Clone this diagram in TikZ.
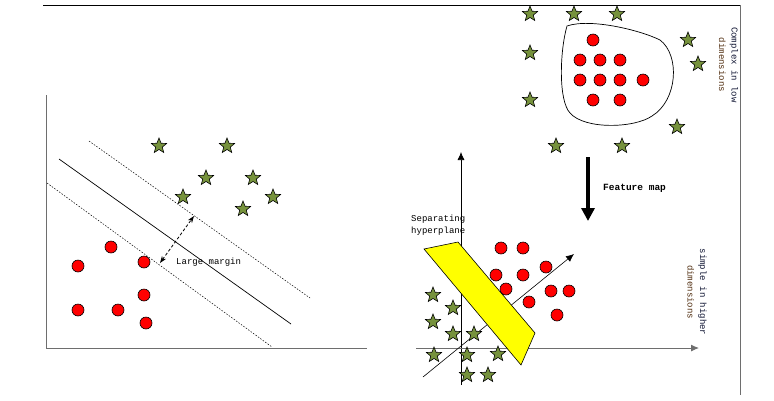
\documentclass[tikz,border=0pt]{standalone}
\usepackage{fontspec}
\setmainfont{Liberation Serif}
\setmonofont{Liberation Mono}
\usetikzlibrary{shapes.geometric,arrows.meta,positioning}

\definecolor{stargreen}{RGB}{118,146,60}
\definecolor{dotred}{RGB}{255,0,0}
\definecolor{planeyellow}{RGB}{255,255,0}
\definecolor{axisgray}{RGB}{110,110,110}
\definecolor{txtblue}{RGB}{15,20,50}
\definecolor{txtbrown}{RGB}{80,45,15}

\begin{document}
\begin{tikzpicture}[x=1pt, y=-1pt,
    greenstar/.style={star, star points=5, star point ratio=2.3, draw=black, fill=stargreen, line width=0.6pt, minimum size=16pt, inner sep=0pt},
    reddot/.style={circle, draw=black, fill=dotred, line width=0.6pt, minimum size=12pt, inner sep=0pt},
    txt/.style={font=\ttfamily\fontsize{9}{12.5}\selectfont, inner sep=0pt},
    axis/.style={line width=0.8pt, axisgray},
    margin/.style={line width=0.5pt, dash pattern=on 1.5pt off 1.5pt},
    arrow/.style={-{Latex[length=8pt,width=7pt]}, line width=0.7pt}
]
\useasboundingbox (0,0) rectangle (774,400);

% frame lines
\coordinate (tl) at (43,5);
\coordinate (tr) at (740,5);
\coordinate (br) at (740,395);
\draw[line width=0.9pt] (tl) -- (tr);
\draw[axisgray, line width=0.8pt] (tr) -- (br);

% left plot: axes and margin lines
\coordinate (lo) at (46,348);
\coordinate (ltop) at (46,95);
\coordinate (lright) at (367,348);
\draw[axis] (ltop) -- (lo) -- (lright);
\coordinate (sepa) at (59,159);
\coordinate (sepb) at (291,324);
\coordinate (upa) at (89,141);
\coordinate (upb) at (310,298);
\coordinate (loa) at (47,183);
\coordinate (lob) at (272,347);
\draw[line width=0.7pt] (sepa) -- (sepb);
\draw[margin] (upa) -- (upb);
\draw[margin] (loa) -- (lob);

\node[greenstar] (ls1) at (159,146) {};
\node[greenstar] (ls2) at (227,146) {};
\node[greenstar] (ls3) at (206,178) {};
\node[greenstar] (ls4) at (253,178) {};
\node[greenstar] (ls5) at (183,197) {};
\node[greenstar] (ls6) at (273,197) {};
\node[greenstar] (ls7) at (243,209) {};

\node[reddot] (ld1) at (111,247) {};
\node[reddot] (ld2) at (78,266) {};
\node[reddot] (ld3) at (144,262) {};
\node[reddot] (ld4) at (144,295) {};
\node[reddot] (ld5) at (78,310) {};
\node[reddot] (ld6) at (118,310) {};
\node[reddot] (ld7) at (146,323) {};

\coordinate (ma) at (160,263);
\coordinate (mb) at (194,216);
\draw[{Stealth[length=7pt,width=5pt]}-{Stealth[length=7pt,width=5pt]}, line width=0.8pt, dash pattern=on 3pt off 2pt] (ma) -- (mb);
\node[txt, anchor=west] (mlabel) at (176,262) {Large margin};

% top right: complex in low dimensions
\draw[line width=0.7pt] (567,26) .. controls (590,18) and (640,30) .. (660,40)
  .. controls (680,55) and (678,100) .. (652,116)
  .. controls (635,128) and (585,130) .. (570,113)
  .. controls (558,100) and (560,50) .. (567,26) -- cycle;

\node[greenstar] (ts1) at (530,14) {};
\node[greenstar] (ts2) at (574,14) {};
\node[greenstar] (ts3) at (617,14) {};
\node[greenstar] (ts4) at (530,53) {};
\node[greenstar] (ts5) at (688,40) {};
\node[greenstar] (ts6) at (698,64) {};
\node[greenstar] (ts7) at (530,100) {};
\node[greenstar] (ts8) at (677,127) {};
\node[greenstar] (ts9) at (556,146) {};
\node[greenstar] (ts10) at (622,146) {};

\node[reddot] (td1) at (593,40) {};
\node[reddot] (td2) at (580,60) {};
\node[reddot] (td3) at (600,60) {};
\node[reddot] (td4) at (620,60) {};
\node[reddot] (td5) at (580,80) {};
\node[reddot] (td6) at (600,80) {};
\node[reddot] (td7) at (620,80) {};
\node[reddot] (td8) at (643,80) {};
\node[reddot] (td9) at (593,100) {};
\node[reddot] (td10) at (620,100) {};

\node[txt, rotate=-90, align=center] (lowlabel) at (728.5,65) {\textcolor{txtblue}{Complex in low}\\\textcolor{txtbrown}{dimensions}};

% feature map arrow
\coordinate (fa) at (588,157);
\coordinate (fb) at (588,221);
\draw[-{Triangle[length=13pt,width=13pt]}, line width=4pt] (fa) -- (fb);
\node[txt, font=\ttfamily\bfseries\fontsize{9.5}{12}\selectfont, anchor=west] (fmap) at (603,188) {Feature map};

% bottom right: simple in higher dimensions
\coordinate (vo) at (461,385);
\coordinate (vt) at (461,152);
\coordinate (ho) at (416,348);
\coordinate (ht) at (699,348);
\coordinate (dgo) at (423,377);
\coordinate (dgt) at (574,254);
\draw[arrow, black] (vo) -- (vt);
\draw[arrow, axisgray, line width=0.9pt] (ho) -- (ht);
\draw[arrow, black, line width=0.6pt] (dgo) -- (dgt);

\coordinate (pa) at (424,249);
\coordinate (pb) at (458,242);
\coordinate (pc) at (535,333);
\coordinate (pd) at (521,365);
\draw[fill=planeyellow, line width=0.6pt] (pa) -- (pb) -- (pc) -- (pd) -- cycle;

\node[greenstar] (bs1) at (433,295) {};
\node[greenstar] (bs2) at (453,308) {};
\node[greenstar] (bs3) at (433,322) {};
\node[greenstar] (bs4) at (453,334) {};
\node[greenstar] (bs5) at (474,334) {};
\node[greenstar] (bs6) at (434,355) {};
\node[greenstar] (bs7) at (467,355) {};
\node[greenstar] (bs8) at (498,354) {};
\node[greenstar] (bs9) at (467,375) {};
\node[greenstar] (bs10) at (488,375) {};

\node[reddot] (bd1) at (501,248) {};
\node[reddot] (bd2) at (523,248) {};
\node[reddot] (bd3) at (546,267) {};
\node[reddot] (bd4) at (496,275) {};
\node[reddot] (bd5) at (523,275) {};
\node[reddot] (bd6) at (506,289) {};
\node[reddot] (bd7) at (551,291) {};
\node[reddot] (bd8) at (569,291) {};
\node[reddot] (bd9) at (529,302) {};
\node[reddot] (bd10) at (557,315) {};

\node[txt, anchor=west, align=left] (sep) at (411,225) {Separating\\hyperplane};
\node[txt, rotate=-90, align=center] (highlabel) at (697,292) {\textcolor{txtblue}{simple in higher}\\\textcolor{txtbrown}{dimensions}};

\end{tikzpicture}
\end{document}
